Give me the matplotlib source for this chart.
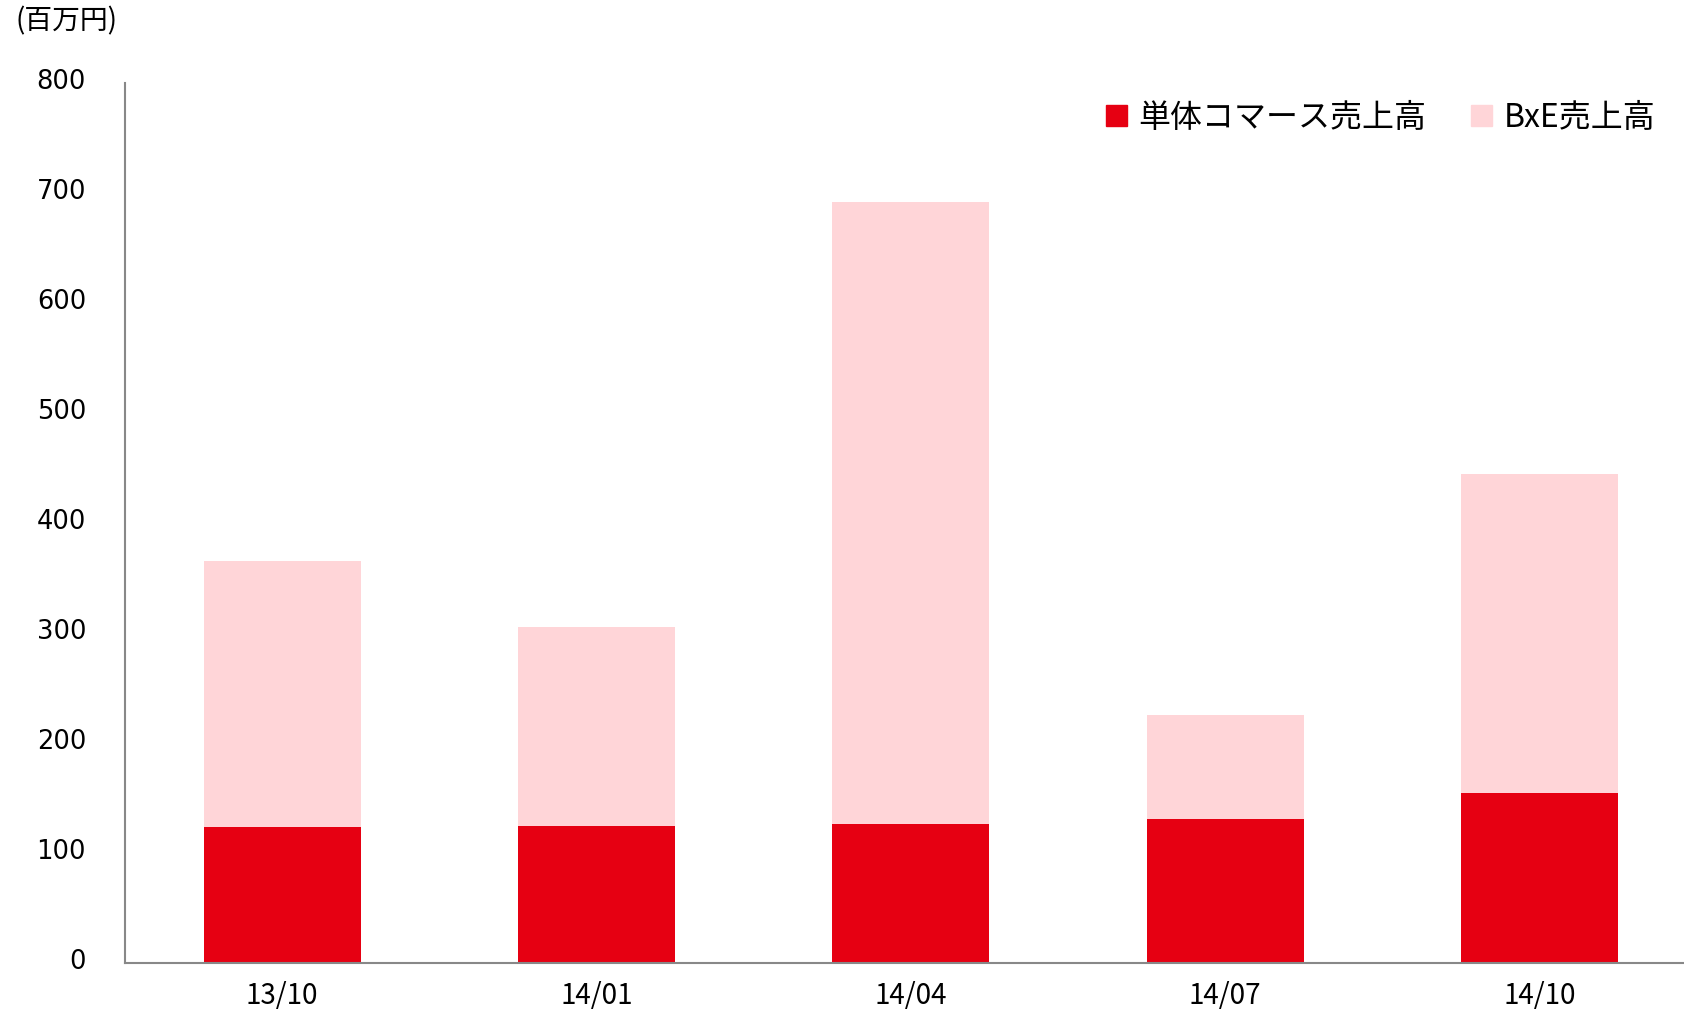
import numpy as np
import matplotlib.pyplot as plt
import matplotlib.transforms as mtransforms
from matplotlib.patches import Patch

plt.rcParams['font.family'] = ['Noto Sans CJK JP', 'DejaVu Sans']

# -----------------------------
# DATI (百万円)
# -----------------------------
quarters = ["13/10", "14/01", "14/04", "14/07", "14/10"]
commerce = [124, 125, 126, 131, 155]      # 単体コマース売上高
bxe = [242, 181, 566, 95, 290]            # BxE売上高 (stacked sopra)

col_commerce = "#E60012"
col_bxe = "#FFD5D8"

# -----------------------------
# GRAFICO
# -----------------------------
fig = plt.figure(figsize=(16.84, 10.18), dpi=100)
ax = fig.add_axes([0.0742, 0.054, 0.9258, 0.864])

x = np.arange(len(quarters))
ax.bar(x, commerce, width=0.5, color=col_commerce, edgecolor="none")
ax.bar(x, bxe, width=0.5, bottom=commerce, color=col_bxe, edgecolor="none")

ax.set_xlim(-0.5, 4.46)
ax.set_ylim(0, 800)
ax.set_yticks(np.arange(0, 801, 100))
ax.set_xticks(x)
ax.set_xticklabels(quarters)

for s in ["top", "right"]:
    ax.spines[s].set_visible(False)
for s in ["left", "bottom"]:
    ax.spines[s].set_color("#888888")
    ax.spines[s].set_linewidth(1.5)

ax.tick_params(axis="y", length=0, pad=28)
ax.tick_params(axis="x", length=0, pad=13, labelsize=20)
# etichette y un po' piu' in alto, come nell'originale
shift = mtransforms.ScaledTranslation(0, 3 / 72, fig.dpi_scale_trans)
for lab in ax.get_yticklabels():
    lab.set_family("DejaVu Sans")
    lab.set_fontsize(18.5)
    lab.set_transform(lab.get_transform() + shift)

fig.text(0.009, 0.979, "(百万円)", fontsize=20, ha="left", va="center")

handles = [Patch(color=col_commerce, label="単体コマース売上高"),
           Patch(color=col_bxe, label="BxE売上高")]
ax.legend(handles=handles, loc="upper right", bbox_to_anchor=(1.0, 1.012),
          ncol=2, frameon=False, fontsize=23, handlelength=0.64,
          handleheight=0.64, handletextpad=0.37, columnspacing=1.4)

fig.savefig("out.png", dpi=100)
